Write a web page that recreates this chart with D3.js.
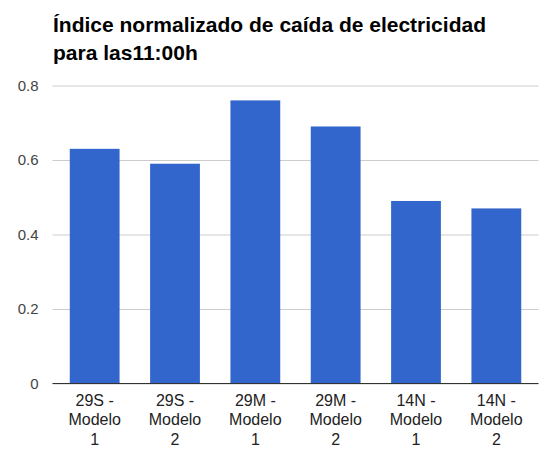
<!DOCTYPE html>
<html>
<head>
<meta charset="utf-8">
<script src="https://cdn.jsdelivr.net/npm/d3@7"></script>
<style>
  body { margin: 0; background: #fff; }
  text { font-family: Arial, "Liberation Sans", sans-serif; }
</style>
</head>
<body>
<div id="chart"></div>
<script>
// data
const categories = ["29S - Modelo 1", "29S - Modelo 2", "29M - Modelo 1", "29M - Modelo 2", "14N - Modelo 1", "14N - Modelo 2"];
const labelLines = [["29S -", "Modelo", "1"], ["29S -", "Modelo", "2"], ["29M -", "Modelo", "1"], ["29M -", "Modelo", "2"], ["14N -", "Modelo", "1"], ["14N -", "Modelo", "2"]];
const values = [0.63, 0.59, 0.76, 0.69, 0.49, 0.47];
const yTicks = [0, 0.2, 0.4, 0.6, 0.8];
const titleLines = ["Índice normalizado de caída de electricidad", "para las11:00h"];

const svgWidth = 545;
const svgHeight = 450;
const margin = { top: 85.5, right: 8, bottom: 66.5, left: 54.5 };
const width = svgWidth - margin.left - margin.right;
const height = svgHeight - margin.top - margin.bottom;

const svg = d3
  .select("#chart")
  .append("svg")
  .attr("width", svgWidth)
  .attr("height", svgHeight);

// Title
svg
  .append("g")
  .selectAll("text")
  .data(titleLines)
  .enter()
  .append("text")
  .attr("x", 53)
  .attr("y", (d, i) => 32 + i * 28)
  .style("font-size", "21px")
  .style("font-weight", "bold")
  .attr("fill", "#000")
  .text((d) => d);

const chart = svg
  .append("g")
  .attr("transform", `translate(${margin.left},${margin.top})`);

const xScale = d3
  .scaleBand()
  .domain(categories)
  .range([0, 482])
  .paddingInner(0.38)
  .paddingOuter(0.19);

const yScale = d3.scaleLinear().domain([0, 0.8]).range([height, 0]);

// Gridlines + y labels
const yAxis = chart
  .append("g")
  .call(
    d3.axisLeft(yScale)
      .tickValues(yTicks)
      .tickSize(-484)
      .tickFormat((d) => (d === 0 ? "0" : d3.format(".1f")(d)))
  );
yAxis.select(".domain").remove();
yAxis
  .selectAll(".tick line")
  .attr("x1", -2)
  .attr("stroke", "#cccccc");
yAxis
  .selectAll(".tick text")
  .attr("x", -16)
  .attr("fill", "#444")
  .style("font-size", "15px");

// Bars
chart
  .selectAll(".bar")
  .data(values)
  .enter()
  .append("rect")
  .attr("class", "bar")
  .attr("x", (d, i) => xScale(categories[i]))
  .attr("y", (d) => yScale(d))
  .attr("width", xScale.bandwidth())
  .attr("height", (d) => height - yScale(d))
  .attr("fill", "#3366cc");

// Baseline
chart
  .append("line")
  .attr("x1", -2)
  .attr("x2", 484)
  .attr("y1", yScale(0))
  .attr("y2", yScale(0))
  .attr("stroke", "#333")
  .attr("stroke-width", 1);

// X labels
const xLabels = chart
  .selectAll(".xlabel")
  .data(labelLines)
  .enter()
  .append("text")
  .attr("class", "xlabel")
  .attr("text-anchor", "middle")
  .attr("fill", "#222")
  .style("font-size", "16px")
  .attr("transform", (d, i) => `translate(${xScale(categories[i]) + xScale.bandwidth() / 2},${height + 22})`);

xLabels
  .selectAll("tspan")
  .data((d) => d)
  .enter()
  .append("tspan")
  .attr("x", 0)
  .attr("y", (d, i) => i * 19.5)
  .text((d) => d);
</script>
</body>
</html>
